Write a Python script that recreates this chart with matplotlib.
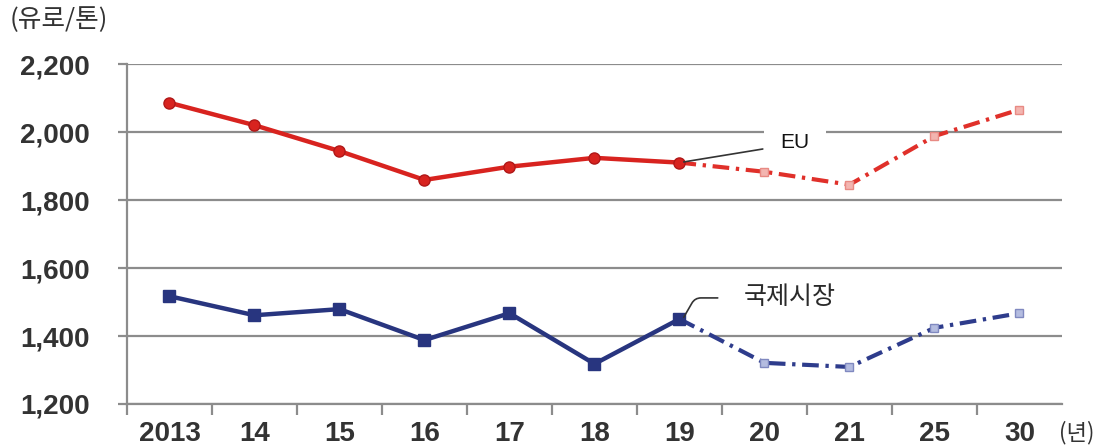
import matplotlib.pyplot as plt

plt.rcParams['font.family'] = ['Liberation Sans', 'Noto Sans CJK KR', 'DejaVu Sans']

# Data
years = ['2013', '14', '15', '16', '17', '18', '19', '20', '21', '25', '30']
eu = [2086, 2020, 1944, 1859, 1898, 1924, 1910, 1883, 1845, 1988, 2066]
intl = [1517, 1461, 1479, 1388, 1467, 1318, 1450, 1321, 1309, 1424, 1467]
split = 6  # index of '19', last actual value

red = '#d8231f'
blue = '#28357f'
grid_c = '#8c8c8c'

fig = plt.figure(figsize=(11.09, 4.47), dpi=100)
ax = fig.add_axes([0.1145, 0.0962, 0.8431, 0.7606])

x = list(range(len(years)))

# gridlines
ax.set_ylim(1200, 2200)
ax.set_yticks([1200, 1400, 1600, 1800, 2000, 2200])
ax.grid(axis='y', color=grid_c, linewidth=1.6, zorder=0)
ax.set_axisbelow(True)

# actual values
ax.plot(x[:split + 1], eu[:split + 1], color=red, linewidth=3.2, marker='o',
        markersize=8, markerfacecolor=red, markeredgecolor='#b01818', zorder=3)
ax.plot(x[:split + 1], intl[:split + 1], color=blue, linewidth=3.2, marker='s',
        markersize=8, markerfacecolor=blue, markeredgecolor=blue, zorder=3)

# forecast
ax.plot(x[split:], eu[split:], color='#e0302a', linewidth=3.0,
        linestyle=(0, (4, 1.6, 0.8, 1.6)), zorder=2)
ax.plot(x[split + 1:], eu[split + 1:], linestyle='none', marker='s', markersize=6,
        markerfacecolor='#f3b5b0', markeredgecolor='#e88a84', zorder=3)
ax.plot(x[split:], intl[split:], color='#2e3c8c', linewidth=3.0,
        linestyle=(0, (4, 1.6, 0.8, 1.6)), zorder=2)
ax.plot(x[split + 1:], intl[split + 1:], linestyle='none', marker='s', markersize=6,
        markerfacecolor='#b4bce0', markeredgecolor='#8089c0', zorder=3)

ax.set_xlim(-0.5, len(years) - 0.5)
ax.set_xticks(x)
ax.set_xticklabels(years)
ax.set_xticks([i + 0.5 for i in x[:-1]] + [-0.5], minor=True)

for s in ['top', 'right']:
    ax.spines[s].set_visible(False)
ax.spines['left'].set_color(grid_c)
ax.spines['left'].set_linewidth(1.6)
ax.spines['bottom'].set_color(grid_c)
ax.spines['bottom'].set_linewidth(1.6)

ax.tick_params(axis='y', length=6.5, width=1.6, color=grid_c, pad=20,
               labelsize=20, labelcolor='#333333')
ax.tick_params(axis='x', which='major', length=0, pad=12,
               labelsize=20, labelcolor='#333333')
ax.tick_params(axis='x', which='minor', length=8, width=1.6, color=grid_c)
ax.set_yticklabels(['1,200', '1,400', '1,600', '1,800', '2,000', '2,200'])
for lab in ax.get_xticklabels() + ax.get_yticklabels():
    lab.set_fontweight('bold')

# annotations
ax.text(7.36, 1968, 'EU', fontsize=15, color='#111111', va='center', ha='center',
        bbox=dict(boxstyle='square,pad=0.8', fc='white', ec='none'), zorder=1.5)
ax.annotate('', xy=(6.05, 1912), xytext=(6.98, 1950),
            arrowprops=dict(arrowstyle='-', color='#333333', lw=1.2,
                            shrinkA=0, shrinkB=0), zorder=5)
ax.text(7.3, 1515, '국제시장', fontsize=18, color='#2a2a2a', va='center', ha='center',
        family=['Noto Sans CJK KR', 'DejaVu Sans'], zorder=4)
ax.annotate('', xy=(6.05, 1455), xytext=(6.45, 1512),
            arrowprops=dict(arrowstyle='-', color='#333333', lw=1.2,
                            shrinkA=0, shrinkB=0,
                            connectionstyle='angle,angleA=0,angleB=60,rad=6'), zorder=5)

fig.text(0.009, 0.955, '(유로/톤)', fontsize=18.5, color='#333333', va='center',
         family=['Noto Sans CJK KR', 'DejaVu Sans'])
fig.text(0.955, 0.033, '(년)', fontsize=16, color='#333333', va='center',
         family=['Noto Sans CJK KR', 'DejaVu Sans'])

fig.savefig('out.png', dpi=100)
